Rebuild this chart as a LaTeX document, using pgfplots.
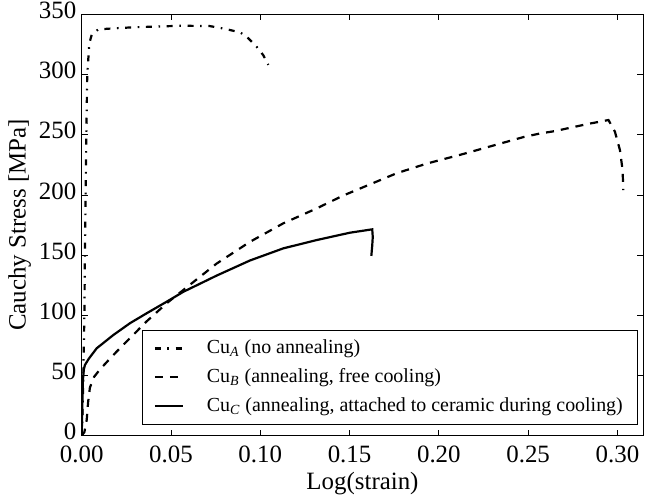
\documentclass[border=0pt]{standalone}
\usepackage{fontspec}
\setmainfont{Liberation Serif}
\usepackage{pgfplots}
\pgfplotsset{compat=1.18}
\begin{document}
\begin{tikzpicture}
\begin{axis}[
  scale only axis,
  width=280.8bp, height=210.7bp,
  xmin=0, xmax=0.3145, ymin=0, ymax=350,
  xtick={0,0.05,0.10,0.15,0.20,0.25,0.30},
  ytick={0,50,100,150,200,250,300,350},
  minor tick num=0,
  tick align=inside,
  xtick pos=both, ytick pos=both,
  major tick length=3bp,
  every tick/.style={black, line width=0.4bp},
  axis line style={line width=0.6bp},
  /pgf/number format/assume math mode=true,
  ticklabel style={font=\fontsize{12.5}{12.5}\selectfont, inner sep=0.5bp},
  xticklabel style={yshift=-4.3bp, /pgf/number format/.cd, fixed, fixed zerofill, precision=2},
  yticklabel style={xshift=-2bp, yshift=2bp, /pgf/number format/.cd, fixed, precision=0},
  scaled x ticks=false,
  xlabel={Log(strain)},
  ylabel={Cauchy Stress [MPa]},
  xlabel style={yshift=-0.8bp},
  label style={font=\fontsize{12.5}{12.5}\selectfont},
  legend style={at={(rel axis cs:0.991,0.025)}, anchor=south east,
    draw=black, line width=0.5bp, font=\fontsize{10}{10}\selectfont,
    inner xsep=5.5bp, inner ysep=3bp, row sep=2bp,
    /tikz/every odd column/.append style={column sep=9.5bp}},
  legend cell align=left,
  legend image code/.code={\draw[#1] (0bp,0bp) -- (14bp,0bp);},
]
\coordinate (ll) at (rel axis cs:0,0);
\coordinate (ur) at (rel axis cs:1,1);
\addplot[black, line width=1.1bp, dash pattern=on 3bp off 3.3bp on 0.8bp off 3.3bp] coordinates {
(0,0) (0.0005,20) (0.0009,50) (0.0015,100) (0.0018,150) (0.0022,200) (0.0026,250) (0.0031,300) (0.0043,326) (0.0056,333) (0.0093,337.5) (0.0200,338.5) (0.0289,339.2) (0.0450,340) (0.0569,340.5) (0.0718,340.2) (0.0800,338) (0.0849,336.3) (0.0886,335) (0.0920,332) (0.0940,329) (0.0980,323) (0.1017,316) (0.1045,308)
};
\addlegendentry{Cu\textsubscript{\itshape A} (no annealing)}
\addplot[black, line width=1.1bp, dash pattern=on 4bp off 3.5bp] coordinates {
(0,0) (0.0015,3) (0.0028,13) (0.0036,28) (0.0046,40) (0.0070,49) (0.0102,55) (0.0177,67) (0.0270,81) (0.0364,95) (0.0476,110) (0.0569,121) (0.0756,143) (0.0942,161) (0.1129,176.4) (0.1316,188.8) (0.1465,199.5) (0.1764,218) (0.1932,226) (0.2137,234) (0.2473,248) (0.2566,251) (0.2650,253) (0.2743,256) (0.2837,259) (0.2930,261.6) (0.2950,262.2) (0.2986,252.5) (0.3014,237.3) (0.3029,220.7) (0.3033,204)
};
\addlegendentry{Cu\textsubscript{\itshape B} (annealing, free cooling)}
\addplot[black, line width=1.1bp] coordinates {
(0,0) (0.0003,20) (0.0006,45) (0.0012,55) (0.0018,58.7) (0.0040,64) (0.0084,72.6) (0.0177,83.6) (0.0270,93.4) (0.0364,101.7) (0.0476,111.3) (0.0569,119.5) (0.0756,133) (0.0942,145.5) (0.1129,155.6) (0.1316,162.5) (0.1502,168.6) (0.1627,171.4) (0.1630,165) (0.1627,158) (0.1622,149.3)
};
\addlegendentry{Cu\textsubscript{\itshape C} (annealing, attached to ceramic during cooling)}
\end{axis}
\pgfresetboundingbox
\path (ll) ++(-40.85bp,-31.65bp) coordinate (bl);
\path (ur) ++(4.35bp,7.15bp) coordinate (tr);
\path[use as bounding box] (bl) rectangle (tr);
\end{tikzpicture}
\end{document}
